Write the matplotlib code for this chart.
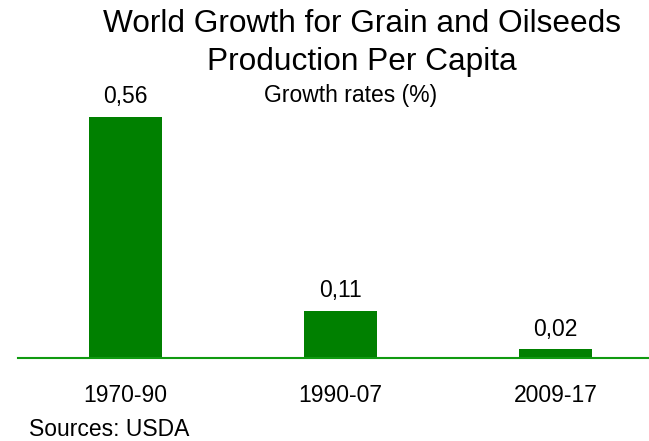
import matplotlib
matplotlib.use('Agg')
import matplotlib.pyplot as plt

plt.rcParams['font.family'] = ['Liberation Sans', 'DejaVu Sans']

# growth rates of per capita grain & oilseed production, by period
periods = ['1970-90', '1990-07', '2009-17']
growth = [0.56, 0.11, 0.02]

W, H = 649, 441
fig = plt.figure(figsize=(W / 100, H / 100), dpi=100)

# axes box in pixels: left, bottom(from top), width, height
ax = fig.add_axes([18 / W, (H - 358) / H, 631 / W, 258 / H])
ax.bar(range(len(periods)), growth, width=0.34, color='#008000', zorder=2)
ax.set_xlim(-0.5, 2.435)
ax.set_ylim(0, 0.6)
ax.axhline(0, color='#109a10', lw=1.5, zorder=3, clip_on=False)

for i, v in enumerate(growth):
    ax.annotate(f'{v:.2f}'.replace('.', ','), (i, v), xytext=(0, 10),
                textcoords='offset points', ha='center', va='baseline',
                fontsize=16.5)

ax.set_xticks(range(len(periods)))
ax.set_xticklabels(periods, fontsize=16.5)
ax.tick_params(axis='x', length=0, pad=19)
ax.set_yticks([])
for s in ax.spines.values():
    s.set_visible(False)

fig.text(362 / W, 1 - 32 / H, 'World Growth for Grain and Oilseeds',
         ha='center', va='baseline', fontsize=22.8)
fig.text(362 / W, 1 - 70 / H, 'Production Per Capita',
         ha='center', va='baseline', fontsize=22.8)
fig.text(351 / W, 1 - 102 / H, 'Growth rates (%)',
         ha='center', va='baseline', fontsize=16.5)
fig.text(29 / W, 1 - 436 / H, 'Sources: USDA',
         ha='left', va='baseline', fontsize=16.5)

fig.savefig('out.png', dpi=100)
